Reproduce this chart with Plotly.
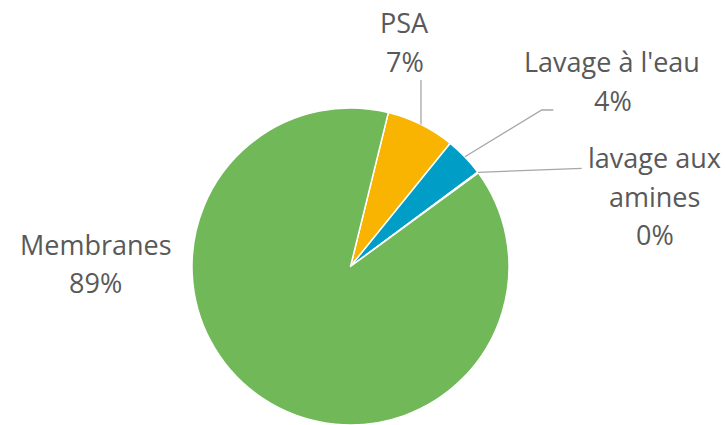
import math
import plotly.graph_objects as go

# Data
labels = ["PSA", "Lavage à l'eau", "lavage aux amines", "Membranes"]
values = [7.0, 4.0, 0.1, 88.9]
display_pct = ["7%", "4%", "0%", "89%"]
colors = ["#F8B400", "#009DC7", "#6FB4D8", "#71B858"]

W, H = 727, 425
ROT = 13.8  # start angle of first slice, clockwise from 12 o'clock

# pie geometry in pixels
cx, cy, R = 350.5, 266.5, 158.5

def px(x):
    return x / W

def py(y):
    return 1 - y / H

fig = go.Figure(go.Pie(
    labels=labels,
    values=values,
    sort=False,
    direction="clockwise",
    rotation=ROT,
    marker=dict(colors=colors, line=dict(color="white", width=1.5)),
    textinfo="none",
    hoverinfo="label+percent",
    showlegend=False,
    domain=dict(x=[(cx - R) / W, (cx + R) / W], y=[0, (H - (cy - R)) / H]),
))

# slice angles from the data
total = sum(values)
starts, ends = [], []
a = ROT
for v in values:
    starts.append(a)
    a += v / total * 360
    ends.append(a)

def edge_point(angle_deg, r=R):
    t = math.radians(angle_deg)
    return cx + r * math.sin(t), cy - r * math.cos(t)

mid = [(s + e) / 2 for s, e in zip(starts, ends)]

line_style = dict(color="#A6A6A6", width=1.3)
shapes = []
# PSA leader: vertical
x0, y0 = edge_point(mid[0])
shapes.append(dict(type="path", xref="paper", yref="paper",
                   path=f"M {px(x0)},{py(y0)} L {px(x0)},{py(80)}", line=line_style))
# Lavage à l'eau leader: diagonal then short horizontal
x1, y1 = edge_point(mid[1])
shapes.append(dict(type="path", xref="paper", yref="paper",
                   path=f"M {px(x1)},{py(y1)} L {px(541.7)},{py(110)} L {px(553.3)},{py(110)}",
                   line=line_style))
# amines leader
x2, y2 = edge_point(mid[2])
shapes.append(dict(type="path", xref="paper", yref="paper",
                   path=f"M {px(x2)},{py(y2)} L {px(581.7)},{py(168.3)}", line=line_style))

font = dict(family="Open Sans, Segoe UI, sans-serif", size=27, color="#595959")
# label lines: (text, x center, y center)
label_lines = [
    (labels[0], 404.5, 22.5), (display_pct[0], 405, 61.5),
    (labels[1], 612, 61.5), (display_pct[1], 613, 100.5),
    ("lavage aux", 654, 157.5), ("amines", 654, 196.5), (display_pct[2], 655, 234.5),
    (labels[3], 96, 244.5), (display_pct[3], 96, 282.5),
]
annotations = []
for t, x, y in label_lines:
    annotations.append(dict(x=px(x), y=py(y), xref="paper", yref="paper",
                            text=t, showarrow=False, xanchor="center", yanchor="middle",
                            align="center", font=font))

fig.update_layout(
    width=W, height=H,
    margin=dict(l=0, r=0, t=0, b=0),
    paper_bgcolor="white",
    plot_bgcolor="white",
    shapes=shapes,
    annotations=annotations,
)

fig.write_html("out.html", config={"displayModeBar": False},
               post_script="document.body.style.margin='0';")
